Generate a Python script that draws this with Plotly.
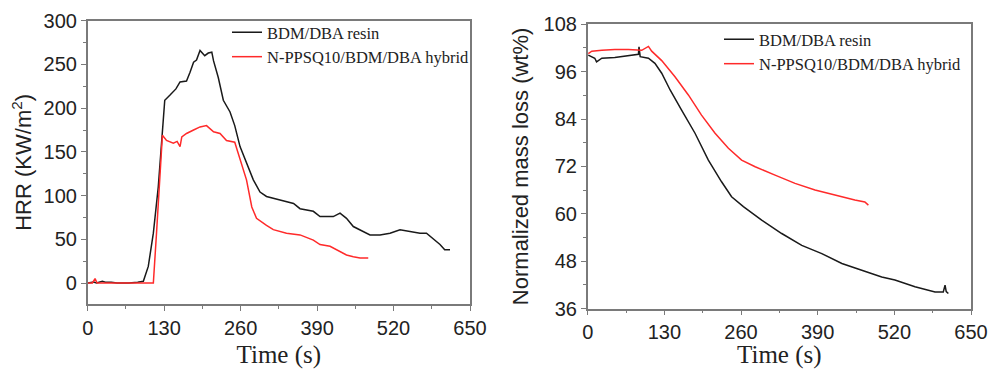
import plotly.graph_objects as go

# ---- HRR panel data ----
hrr_resin_t = [0, 10, 15, 25, 30, 40, 50, 70, 85, 94.6, 103, 111.6, 120, 128.6, 131, 140, 150, 157, 168, 174, 180, 185, 191, 199, 205, 211, 214, 222, 230.6, 242, 250, 259, 270, 281.6, 293, 304, 327, 350, 361, 383.6, 395, 417.6, 429, 440, 451.6, 468.6, 480, 497, 514, 531, 548, 565, 576, 587.5, 599, 607, 616]
hrr_resin_v = [0, 1, 0, 2, 1, 1, 0, 0, 1, 2, 19, 57, 110, 197, 209, 215, 222, 230, 231, 241, 252.5, 255, 266, 260, 263, 264, 254, 235, 209, 195.6, 180, 156, 137, 118, 104, 99, 95, 91, 85, 82, 76, 76, 80, 74, 64.6, 59, 55, 55, 57, 61, 59, 57, 57, 51, 44, 38, 38]

hrr_hyb_t = [0, 8, 12.5, 16, 30, 60, 90, 108.8, 111.6, 117, 123, 127, 134, 145.6, 152, 157, 160, 168, 180, 191, 202, 214, 225, 236, 250, 259, 270, 279, 287, 304, 315.6, 338, 361, 383.6, 395, 412, 429, 440, 451.6, 463, 477]
hrr_hyb_v = [0, 0, 5, 0, 0, 0, 0, 0, 0, 57, 133, 169, 163, 160, 162, 156, 167, 171, 175, 178.5, 180, 173, 171, 163, 161, 140.5, 118, 87, 74, 66, 61, 57, 55, 49, 44, 42, 36, 32, 30, 28.5, 28.5]

# ---- Mass loss panel data ----
mass_resin_t = [1, 12, 15, 24, 46, 80, 86, 87, 89, 103, 114, 125.5, 140, 159, 182, 204.6, 227, 244, 264, 295, 329, 363, 397, 431, 465, 498.6, 521, 555, 589, 603, 606, 608, 611.6]
mass_resin_v = [100.2, 99.4, 98.5, 99.4, 99.6, 100.2, 100.4, 102.3, 99.8, 99.4, 98.1, 95.6, 91.3, 86.3, 80.4, 73.6, 68.1, 64.3, 61.8, 58.4, 55.0, 52.0, 49.9, 47.4, 45.7, 44.0, 43.2, 41.5, 40.2, 40.2, 41.9, 40.3, 39.8]

mass_hyb_t = [1, 7, 24, 46, 69, 91.6, 103, 108.5, 125.5, 148, 170.7, 193, 216, 238.6, 261, 284, 317.7, 351.6, 385.5, 419.5, 453, 470, 476]
mass_hyb_v = [100.6, 101.2, 101.4, 101.6, 101.6, 101.4, 102.4, 101.2, 98.8, 94.7, 90.1, 85.0, 80.4, 76.6, 73.6, 71.9, 69.8, 67.7, 66.0, 64.7, 63.5, 63.0, 62.2]

x_ticks = [0, 130, 260, 390, 520, 650]
hrr_ticks = [0, 50, 100, 150, 200, 250, 300]
mass_ticks = [36, 48, 60, 72, 84, 96, 108]

BLACK = "#1a1a1a"
RED = "#ff2a2a"
FRAME = "#7a7a7a"
SANS = "Liberation Sans, Arial, sans-serif"
SERIF = "Liberation Serif, Times New Roman, serif"

fig = go.Figure()
fig.add_trace(go.Scatter(x=hrr_resin_t, y=hrr_resin_v, mode="lines", name="BDM/DBA resin",
                         line=dict(color=BLACK, width=1.5), xaxis="x", yaxis="y", legend="legend"))
fig.add_trace(go.Scatter(x=hrr_hyb_t, y=hrr_hyb_v, mode="lines", name="N-PPSQ10/BDM/DBA hybrid",
                         line=dict(color=RED, width=1.5), xaxis="x", yaxis="y", legend="legend"))
fig.add_trace(go.Scatter(x=mass_resin_t, y=mass_resin_v, mode="lines", name="BDM/DBA resin",
                         line=dict(color=BLACK, width=1.5), xaxis="x2", yaxis="y2", legend="legend2"))
fig.add_trace(go.Scatter(x=mass_hyb_t, y=mass_hyb_v, mode="lines", name="N-PPSQ10/BDM/DBA hybrid",
                         line=dict(color=RED, width=1.5), xaxis="x2", yaxis="y2", legend="legend2"))

W, H = 990, 369

def axis_common():
    return dict(showline=True, linecolor=FRAME, linewidth=1.5, mirror=True,
                ticks="outside", ticklen=5, tickwidth=1.2, tickcolor=FRAME,
                showgrid=False, zeroline=False, automargin=False,
                tickfont=dict(family=SANS, size=20, color="#222"))

xa = axis_common()
xa.update(domain=[87.7 / W, 470 / W], range=[0, 650], tickvals=x_ticks, anchor="y",
          minor=dict(ticks="outside", ticklen=3, dtick=65, tickcolor=FRAME),
          title=dict(text="Time (s)", font=dict(family=SERIF, size=25, color="#222"), standoff=9))
ya = axis_common()
ya.update(domain=[1 - 304 / H, 1 - 20.7 / H], range=[-24, 300], tickvals=hrr_ticks, anchor="x",
          minor=dict(ticks="outside", ticklen=3, dtick=25, tick0=0, tickcolor=FRAME),
          title=dict(text="HRR (KW/m<sup>2</sup>)", font=dict(family=SANS, size=22, color="#222"), standoff=6))
xa2 = axis_common()
xa2.update(domain=[587.7 / W, 971 / W], range=[0, 650], tickvals=x_ticks, anchor="y2",
           minor=dict(ticks="outside", ticklen=3, dtick=65, tickcolor=FRAME),
           title=dict(text="Time (s)", font=dict(family=SERIF, size=25, color="#222"), standoff=9))
ya2 = axis_common()
ya2.update(domain=[1 - 308.5 / H, 1 - 24.3 / H], range=[36, 108], tickvals=mass_ticks, anchor="x2",
           minor=dict(ticks="outside", ticklen=3, dtick=6, tick0=36, tickcolor=FRAME),
           title=dict(text="Normalized mass loss (wt%)", font=dict(family=SANS, size=22, color="#222"), standoff=9))

leg_font = dict(family=SERIF, size=16.5, color="#222")
fig.update_layout(
    width=W, height=H,
    margin=dict(l=0, r=0, t=0, b=0),
    paper_bgcolor="white", plot_bgcolor="white",
    xaxis=xa, yaxis=ya, xaxis2=xa2, yaxis2=ya2,
    legend=dict(x=227 / W, y=1 - 15 / H, xanchor="left", yanchor="top", font=leg_font,
                bgcolor="rgba(0,0,0,0)", tracegroupgap=0, itemwidth=30),
    legend2=dict(x=719 / W, y=1 - 22 / H, xanchor="left", yanchor="top", font=leg_font,
                 bgcolor="rgba(0,0,0,0)", tracegroupgap=0, itemwidth=30),
)

fig.write_html("out.html", config={"displayModeBar": False},
               post_script="document.body.style.margin='0';")
